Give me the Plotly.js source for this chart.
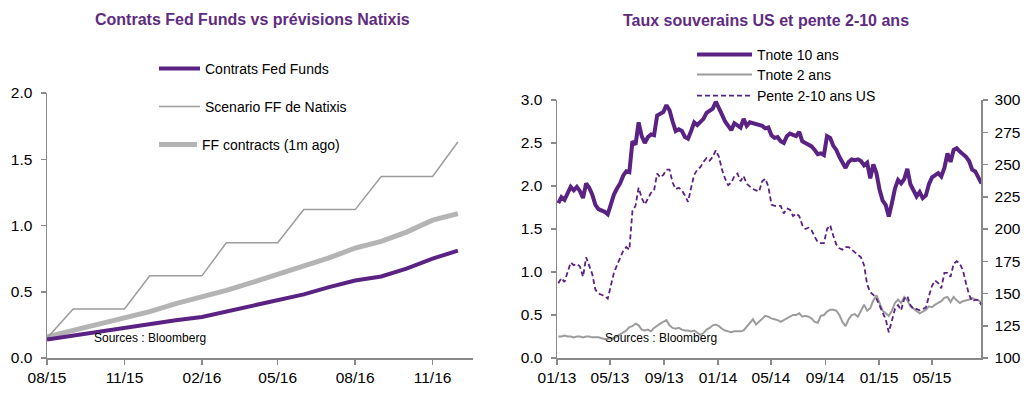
<!DOCTYPE html>
<html><head><meta charset="utf-8">
<script src="https://cdn.plot.ly/plotly-3.0.1.min.js"></script>
<style>html,body{margin:0;padding:0;background:#fff}#chart{width:1032px;height:393px}</style>
</head><body><div id="chart"></div>
<script>
// ---------- Left panel data (monthly) ----------
const ffDates = ['2015-08-01','2015-09-01','2015-10-01','2015-11-01','2015-12-01','2016-01-01','2016-02-01','2016-03-01','2016-04-01','2016-05-01','2016-06-01','2016-07-01','2016-08-01','2016-09-01','2016-10-01','2016-11-01','2016-12-01'];
const contratsFF = [0.14,0.17,0.20,0.23,0.26,0.285,0.31,0.35,0.395,0.43,0.48,0.535,0.585,0.615,0.675,0.75,0.81];
const scenarioNatixis = [0.15,0.37,0.37,0.37,0.62,0.62,0.62,0.87,0.87,0.87,1.12,1.12,1.12,1.37,1.37,1.37,1.63];
const ffOneMonthAgo = [0.16,0.21,0.255,0.30,0.35,0.41,0.46,0.51,0.57,0.63,0.69,0.755,0.83,0.88,0.95,1.04,1.09];
const leftXTicks = ['2015-08-01','2015-11-01','2016-02-01','2016-05-01','2016-08-01','2016-11-01'];

// ---------- Right panel data (weekly, from first Friday of 2013) ----------
const firstWeek = '2013-01-04';
const tnote10 = [
1.80,1.87,1.84,1.93,1.99,1.95,1.99,1.94,1.86,2.03,
1.98,1.90,1.78,1.73,1.72,1.70,1.67,1.78,1.90,1.97,
2.03,2.12,2.17,2.16,2.52,2.48,2.74,2.58,2.50,2.57,
2.60,2.59,2.82,2.84,2.86,2.94,2.88,2.75,2.64,2.66,
2.64,2.57,2.55,2.64,2.74,2.71,2.74,2.78,2.85,2.87,
2.90,2.98,2.89,2.83,2.75,2.69,2.65,2.73,2.71,2.68,
2.78,2.70,2.74,2.73,2.72,2.70,2.70,2.67,2.68,2.59,
2.56,2.57,2.52,2.50,2.58,2.61,2.60,2.58,2.63,2.52,
2.50,2.48,2.46,2.42,2.37,2.38,2.36,2.58,2.56,2.47,
2.42,2.34,2.28,2.21,2.28,2.31,2.30,2.31,2.29,2.24,
2.27,2.09,2.25,2.15,1.96,1.83,1.78,1.645,1.80,1.97,
2.07,2.03,2.08,2.20,2.02,1.95,1.88,1.93,1.86,1.89,
2.02,2.10,2.12,2.15,2.11,2.21,2.38,2.28,2.42,2.44,
2.40,2.37,2.34,2.29,2.19,2.17,2.09,2.03];
const tnote2 = [
0.25,0.25,0.26,0.25,0.25,0.24,0.25,0.25,0.24,0.25,
0.25,0.24,0.24,0.24,0.23,0.22,0.22,0.23,0.23,0.25,
0.27,0.29,0.32,0.36,0.37,0.40,0.38,0.33,0.32,0.33,
0.31,0.35,0.38,0.40,0.42,0.44,0.38,0.35,0.34,0.35,
0.33,0.32,0.32,0.31,0.32,0.29,0.27,0.29,0.33,0.35,
0.38,0.39,0.37,0.34,0.32,0.31,0.30,0.31,0.31,0.31,
0.32,0.36,0.41,0.45,0.39,0.42,0.45,0.49,0.48,0.46,
0.45,0.44,0.42,0.44,0.46,0.48,0.50,0.50,0.52,0.48,
0.49,0.48,0.46,0.42,0.41,0.49,0.50,0.54,0.56,0.56,
0.55,0.50,0.42,0.37,0.45,0.50,0.51,0.48,0.55,0.62,
0.55,0.58,0.67,0.73,0.64,0.55,0.52,0.49,0.55,0.64,
0.68,0.64,0.71,0.67,0.60,0.57,0.54,0.52,0.54,0.56,
0.60,0.59,0.62,0.64,0.66,0.70,0.71,0.65,0.71,0.67,
0.64,0.66,0.67,0.68,0.70,0.68,0.67,0.65];
const pente2_10 = [
158,162,159,166,174,172,173,171,163,178,
172,165,153,150,149,148,146,155,166,172,
177,183,186,184,214,218,232,224,219,224,
228,230,243,240,242,246,246,236,231,232,
230,226,221,232,242,246,248,252,255,253,
256,261,256,246,239,234,236,241,243,237,
241,235,233,231,230,229,237,239,233,219,
218,218,218,212,216,215,210,212,210,203,
200,201,199,194,190,189,189,200,203,195,
188,185,184,186,186,184,182,180,178,172,
157,151,149,146,141,135,130,120,128,138,
141,137,146,148,141,138,138,137,138,139,
148,156,160,158,154,166,166,163,173,175,
173,168,158,149,144,145,145,141];

// weekly sampling grid (x positions of the weekly observations)
function weeklyDates(start, n) {
  const out = [];
  const d0 = new Date(start + 'T00:00:00Z');
  for (let i = 0; i < n; i++) {
    const d = new Date(d0.getTime() + i * 7 * 86400000);
    out.push(d.toISOString().slice(0, 10));
  }
  return out;
}
const weeks = weeklyDates(firstWeek, tnote10.length);

// ---------- Styling ----------
const W = 1032, H = 393;
const fx = px => px / W;
const fy = py => 1 - py / H;
const FONT = 'Liberation Sans, Arial, sans-serif';
const PURPLE = '#5a2283';
const TITLE_PURPLE = '#5f2c7f';
const AXIS = '#8a8a8a';

function axisStyle(extra) {
  return Object.assign({
    showline: true, linecolor: AXIS, linewidth: 1.5,
    ticks: 'outside', ticklen: 5, tickwidth: 1.5, tickcolor: AXIS,
    showgrid: false, zeroline: false,
    tickfont: {family: FONT, size: 15.5, color: '#000'},
    fixedrange: true
  }, extra);
}

const traces = [
  {x: ffDates, y: ffOneMonthAgo, name: 'FF contracts (1m ago)', type: 'scatter', mode: 'lines',
   line: {color: '#b4b4b4', width: 5}, xaxis: 'x', yaxis: 'y', legend: 'legend3'},
  {x: ffDates, y: scenarioNatixis, name: 'Scenario FF de Natixis', type: 'scatter', mode: 'lines',
   line: {color: '#9c9c9c', width: 1.5}, xaxis: 'x', yaxis: 'y', legend: 'legend2'},
  {x: ffDates, y: contratsFF, name: 'Contrats Fed Funds', type: 'scatter', mode: 'lines',
   line: {color: PURPLE, width: 4}, xaxis: 'x', yaxis: 'y', legend: 'legend'},

  {x: weeks, y: tnote2, name: 'Tnote 2 ans', type: 'scatter', mode: 'lines',
   line: {color: '#9c9c9c', width: 2}, xaxis: 'x2', yaxis: 'y3', legend: 'legend5'},
  {x: weeks, y: tnote10, name: 'Tnote 10 ans', type: 'scatter', mode: 'lines',
   line: {color: PURPLE, width: 4}, xaxis: 'x2', yaxis: 'y3', legend: 'legend4'},
  {x: weeks, y: pente2_10, name: 'Pente 2-10 ans US', type: 'scatter', mode: 'lines',
   line: {color: PURPLE, width: 1.8, dash: '5px,3px'}, xaxis: 'x2', yaxis: 'y4', legend: 'legend6'}
];

function leg(xpx, ypx, iw) {
  return {x: fx(xpx), y: fy(ypx), xanchor: 'left', yanchor: 'middle',
          bgcolor: 'rgba(0,0,0,0)', borderwidth: 0, itemwidth: iw,
          font: {family: FONT, size: 14, color: '#000'}, itemclick: false, itemdoubleclick: false};
}

const layout = {
  width: W, height: H,
  margin: {l: 0, r: 0, t: 0, b: 0},
  paper_bgcolor: '#fff', plot_bgcolor: '#fff',
  font: {family: FONT, color: '#000'},
  xaxis: axisStyle({domain: [fx(47), fx(473)], anchor: 'y', type: 'date',
    range: ['2015-08-01', '2016-12-19'], tickmode: 'array', tickvals: leftXTicks, tickformat: '%m/%y'}),
  yaxis: axisStyle({domain: [fy(358), fy(93)], anchor: 'x', range: [0, 2], dtick: 0.5, tick0: 0, tickformat: '.1f', ticklabelstandoff: 5}),
  yaxis2: axisStyle({overlaying: 'y', side: 'right', anchor: 'x', range: [0, 2], dtick: 0.5, tick0: 0, tickformat: '.1f', ticklabelstandoff: 4}),
  xaxis2: axisStyle({domain: [fx(557), fx(981)], anchor: 'y3', type: 'date',
    range: ['2013-01-01', '2015-08-20'], tick0: '2013-01-01', dtick: 'M4', tickformat: '%m/%y'}),
  yaxis3: axisStyle({domain: [fy(358), fy(100)], anchor: 'x2', range: [0, 3], dtick: 0.5, tick0: 0, tickformat: '.1f', ticklabelstandoff: 5}),
  yaxis4: axisStyle({overlaying: 'y3', side: 'right', anchor: 'x2', range: [100, 300], dtick: 25, tick0: 100, ticklabelstandoff: 4}),
  legend: leg(154, 69, 41),
  legend2: leg(154, 107, 41),
  legend3: leg(154, 145, 38),
  legend4: leg(692, 55, 55),
  legend5: leg(692, 75, 55),
  legend6: leg(692, 96, 55),
  annotations: [
    {text: '<b>Contrats Fed Funds vs prévisions Natixis</b>', xref: 'paper', yref: 'paper',
     x: fx(252), y: fy(19), xanchor: 'center', yanchor: 'middle', showarrow: false,
     font: {family: FONT, size: 16, color: TITLE_PURPLE}},
    {text: '<b>Taux souverains US et pente 2-10 ans</b>', xref: 'paper', yref: 'paper',
     x: fx(766), y: fy(20), xanchor: 'center', yanchor: 'middle', showarrow: false,
     font: {family: FONT, size: 16, color: TITLE_PURPLE}},
    {text: 'Sources : Bloomberg', xref: 'paper', yref: 'paper',
     x: fx(92), y: fy(338), xanchor: 'left', yanchor: 'middle', showarrow: false,
     font: {family: FONT, size: 12, color: '#000'}},
    {text: 'Sources : Bloomberg', xref: 'paper', yref: 'paper',
     x: fx(603), y: fy(338), xanchor: 'left', yanchor: 'middle', showarrow: false,
     font: {family: FONT, size: 12, color: '#000'}}
  ],
  showlegend: true
};

Plotly.newPlot('chart', traces, layout, {displayModeBar: false, staticPlot: true});
</script></body></html>
